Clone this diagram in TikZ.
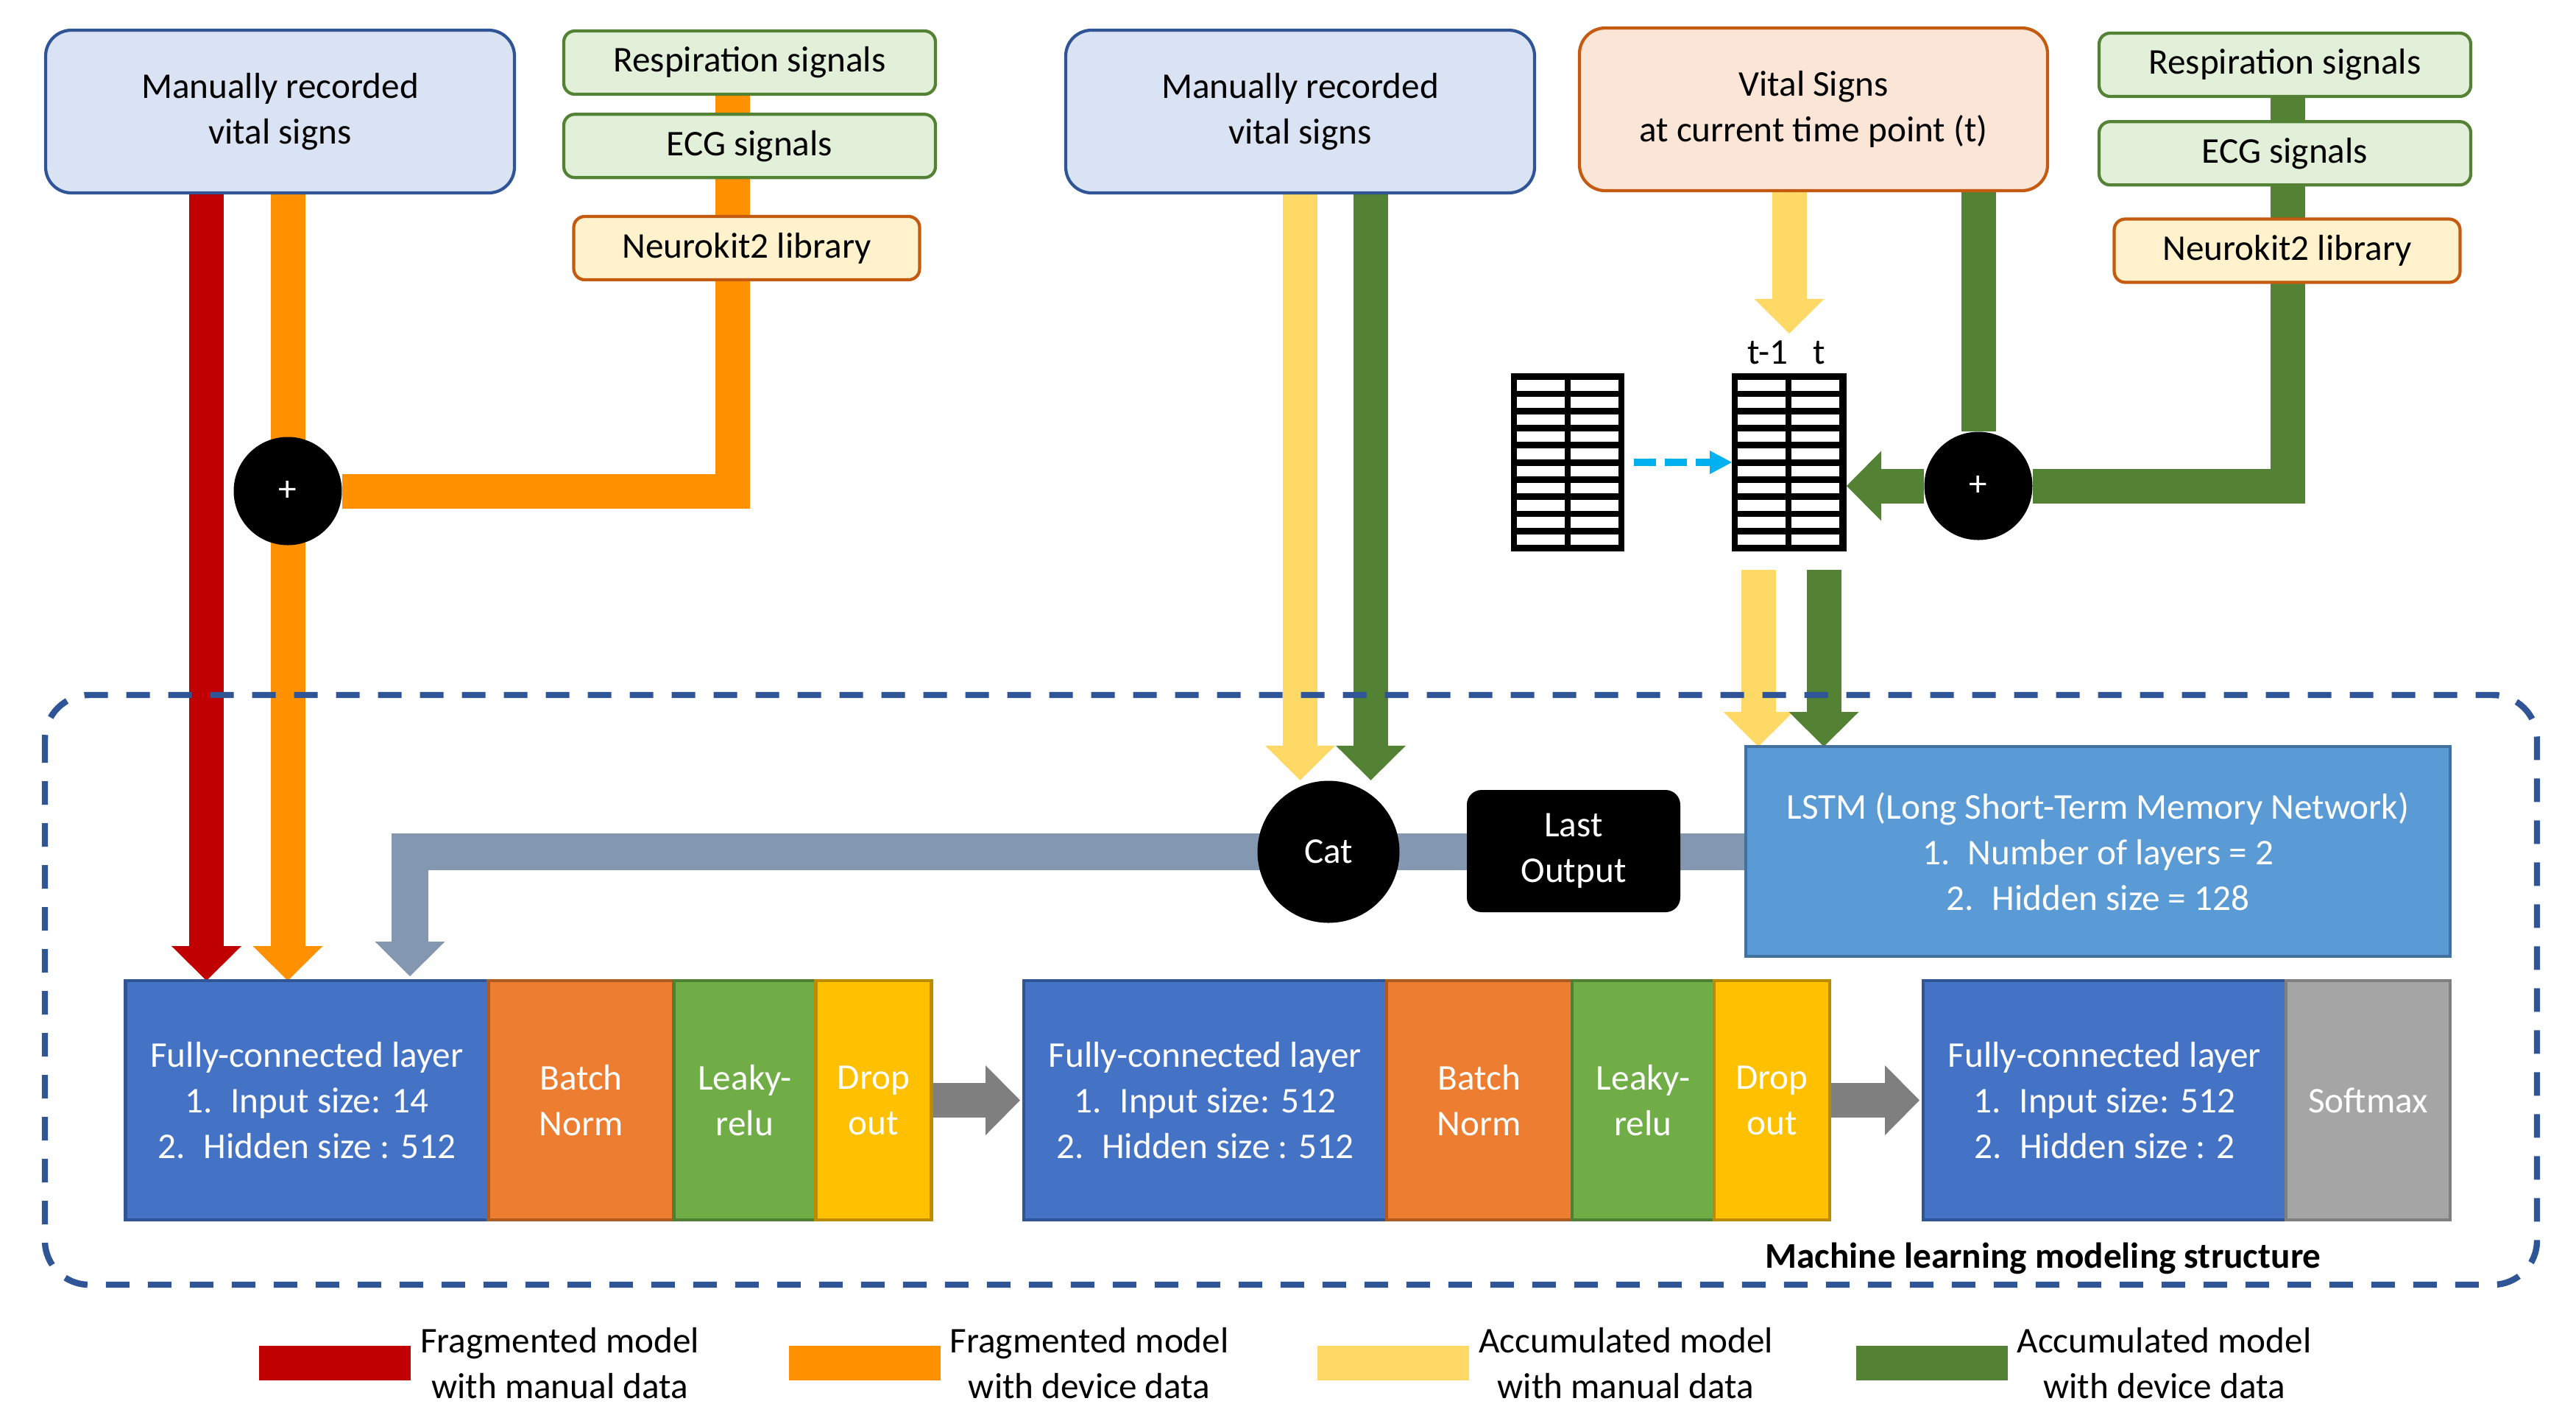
\documentclass[tikz,border=0pt]{standalone}
\usepackage{fontspec}
\setmainfont{Carlito}
\usetikzlibrary{arrows.meta,positioning,backgrounds}

\definecolor{manfill}{HTML}{DAE3F3}
\definecolor{mandraw}{HTML}{2F5597}
\definecolor{sigfill}{HTML}{E2F0D9}
\definecolor{sigdraw}{HTML}{548235}
\definecolor{libfill}{HTML}{FFF2CC}
\definecolor{libdraw}{HTML}{C55A11}
\definecolor{vitfill}{HTML}{FBE5D6}
\definecolor{fragred}{HTML}{C00000}
\definecolor{fragorange}{HTML}{FF9100}
\definecolor{accyellow}{HTML}{FFD966}
\definecolor{accgreen}{HTML}{548235}
\definecolor{catgray}{HTML}{8497B0}
\definecolor{fcblue}{HTML}{4472C4}
\definecolor{bnorange}{HTML}{ED7D31}
\definecolor{bndraw}{HTML}{AE5A21}
\definecolor{lrgreen}{HTML}{70AD47}
\definecolor{lrdraw}{HTML}{507E32}
\definecolor{dofill}{HTML}{FFC000}
\definecolor{dodraw}{HTML}{BC8C00}
\definecolor{smgray}{HTML}{A5A5A5}
\definecolor{smdraw}{HTML}{7F7F7F}
\definecolor{lstmblue}{HTML}{5B9BD5}
\definecolor{lstmdraw}{HTML}{41719C}
\definecolor{flowgray}{HTML}{7F7F7F}
\definecolor{skyblue}{HTML}{00B0F0}

\tikzset{
	% standard arrow tip for the thick pipes
	>={Triangle[width=0.95cm,length=0.47cm,line width=0pt]},
	% input box style
	srcbox/.style={
		rectangle,
		rounded corners=0.35cm,
		line width=1.2pt,
		align=center,
		minimum width=6.37cm,
		minimum height=2.21cm
	},
	% signal box style
	sigbox/.style={
		rectangle,
		rounded corners=0.15cm,
		draw=sigdraw, fill=sigfill,
		line width=1.2pt,
		minimum width=5.05cm,
		minimum height=0.86cm
	},
	libbox/.style={sigbox, draw=libdraw, fill=libfill, minimum width=4.7cm},
	% network layer style
	layer/.style={
		rectangle,
		line width=1.2pt,
		text=white,
		align=center,
		minimum height=3.25cm,
		inner sep=0pt, outer sep=0pt
	},
	fcbox/.style={layer, fill=fcblue, draw=mandraw, minimum width=4.93cm},
	bnbox/.style={layer, fill=bnorange, draw=bndraw, minimum width=2.52cm},
	lrbox/.style={layer, fill=lrgreen, draw=lrdraw, minimum width=1.93cm},
	dobox/.style={layer, fill=dofill, draw=dodraw, minimum width=1.57cm},
	% black joint style
	joint/.style={circle, fill=black, text=white, inner sep=0pt},
	% data table style
	vtable/.style={rectangle, fill=black, minimum width=1.54cm, minimum height=2.42cm, inner sep=0pt, outer sep=0pt},
	% legend style
	legkey/.style={rectangle, minimum width=2.06cm, minimum height=0.47cm, inner sep=0pt},
	legtext/.style={align=center},
	% pipe style
	pipe/.style={line width=0.47cm},
}

\begin{document}
\begin{tikzpicture}[font=\fontsize{14}{17.6}\selectfont]
	\useasboundingbox (0,0) rectangle (35,-19.21);

	% inputs of the fragmented model
	\node[srcbox, draw=mandraw, fill=manfill] (manual1) at (3.805,-1.515)
		{Manually recorded\\vital signs};
	\node[sigbox] (resp1) at (10.185,-0.85) {Respiration signals};
	\node[sigbox, below=0.23cm of resp1] (ecg1) {ECG signals};
	\node[libbox] (neuro1) at (10.145,-3.37) {Neurokit2 library};
	\node[joint, minimum size=1.47cm] (plus1) at (3.91,-6.67) {+};

	% inputs of the accumulated model
	\node[srcbox, draw=mandraw, fill=manfill] (manual2) at (17.665,-1.515)
		{Manually recorded\\vital signs};
	\node[srcbox, draw=libdraw, fill=vitfill, minimum width=6.36cm] (vital) at (24.64,-1.485)
		{Vital Signs\\at current time point (t)};
	\node[sigbox] (resp2) at (31.045,-0.88) {Respiration signals};
	\node[sigbox, below=0.30cm of resp2] (ecg2) {ECG signals};
	\node[libbox] (neuro2) at (31.075,-3.405) {Neurokit2 library};
	\node[joint, minimum size=1.47cm] (plus2) at (26.88,-6.60) {+};

	% time tables
	\node[vtable] (tab1) at (21.30,-6.28) {};
	\node[vtable, minimum width=1.56cm] (tab2) at (24.31,-6.28) {};
	\foreach \t in {tab1,tab2}
		\foreach \r in {0,...,9}
			\foreach \c in {0,1}
				\fill[white] ([xshift=0.08cm+\c*0.73cm, yshift=-0.09cm-\r*0.233cm]\t.north west)
					rectangle ++(0.65,-0.145);
	\node (tprev) at ([xshift=-0.29cm, yshift=0.28cm]tab2.north) {t-1};
	\node (tnow) at ([xshift=0.41cm, yshift=0.28cm]tab2.north) {t};

	% model structure
	\node[joint, minimum size=1.93cm] (cat) at (18.05,-11.57) {Cat};
	\node[rectangle, rounded corners=0.2cm, fill=black, text=white, align=center,
		minimum width=2.9cm, minimum height=1.66cm] (lastout) at (21.38,-11.56) {Last\\Output};
	\node[layer, fill=lstmblue, draw=lstmdraw, minimum width=9.57cm, minimum height=2.85cm]
		(lstm) at (28.505,-11.565)
		{LSTM (Long Short-Term Memory Network)\\1.\enspace Number of layers = 2\\2.\enspace Hidden size = 128};

	\node[fcbox] (fc1) at (4.17,-14.945)
		{Fully-connected layer\\1.\enspace Input size: 14\\2.\enspace Hidden size : 512};
	\node[bnbox, right=0pt of fc1] (bn1) {Batch\\Norm};
	\node[lrbox, right=0pt of bn1] (lr1) {Leaky-\\relu};
	\node[dobox, right=0pt of lr1] (do1) {Drop\\out};

	\node[fcbox] (fc2) at (16.375,-14.945)
		{Fully-connected layer\\1.\enspace Input size: 512\\2.\enspace Hidden size : 512};
	\node[bnbox, right=0pt of fc2] (bn2) {Batch\\Norm};
	\node[lrbox, right=0pt of bn2] (lr2) {Leaky-\\relu};
	\node[dobox, right=0pt of lr2] (do2) {Drop\\out};

	\node[fcbox] (fc3) at (28.595,-14.945)
		{Fully-connected layer\\1.\enspace Input size: 512\\2.\enspace Hidden size : 2};
	\node[layer, fill=smgray, draw=smdraw, minimum width=2.23cm, right=0pt of fc3] (soft) {Softmax};

	\draw[mandraw, line width=2.4pt, dash pattern=on 0.32cm off 0.25cm, rounded corners=0.6cm]
		(0.61,-9.44) rectangle (34.47,-17.45);
	\node[font=\fontsize{14}{17.6}\selectfont\bfseries] (title) at (27.76,-17.09)
		{Machine learning modeling structure};

	% legend
	\node[legkey, fill=fragred] (keyred) at (4.55,-18.515) {};
	\node[legtext, right=0pt of keyred] (txtred) {Fragmented model\\with manual data};
	\node[legkey, fill=fragorange] (keyorg) at (11.745,-18.515) {};
	\node[legtext, right=0pt of keyorg] (txtorg) {Fragmented model\\with device data};
	\node[legkey, fill=accyellow] (keyyel) at (18.93,-18.515) {};
	\node[legtext, right=0pt of keyyel] (txtyel) {Accumulated model\\with manual data};
	\node[legkey, fill=accgreen] (keygrn) at (26.245,-18.515) {};
	\node[legtext, right=0pt of keygrn] (txtgrn) {Accumulated model\\with device data};

	% pipe end points
	\coordinate (redsrc) at ([xshift=-1.0cm]manual1.south);
	\coordinate (orgsrc) at (manual1.south -| plus1);
	\coordinate (orgsig) at ([xshift=-0.23cm]resp1.south);
	\coordinate (yelsrc) at (manual2.south);
	\coordinate (grnsrc) at ([xshift=0.96cm]manual2.south);
	\coordinate (yelvit) at (vital.south -| tab2);
	\coordinate (grnvit) at (vital.south -| plus2);
	\coordinate (grnsig) at ([xshift=0.035cm]resp2.south);
	\coordinate (yeltab) at ([xshift=-0.42cm, yshift=-0.25cm]tab2.south);
	\coordinate (grntab) at ([xshift=0.47cm, yshift=-0.25cm]tab2.south);
	\coordinate (catin) at ([xshift=1.40cm, yshift=0.06cm]fc1.north);

	\begin{scope}[on background layer]
		\draw[pipe, fragred, ->] (redsrc) -- (redsrc |- fc1.north);
		\draw[pipe, fragorange, ->] (orgsrc) -- (orgsrc |- fc1.north);
		\draw[pipe, fragorange] (orgsig) |- (plus1);

		\draw[pipe, accyellow, ->] (yelsrc) -- (yelsrc |- cat.north);
		\draw[pipe, accgreen, ->] (grnsrc) -- (grnsrc |- cat.north);
		\draw[pipe, accyellow, ->] (yelvit) -- ([yshift=0.54cm]tab2.north);
		\draw[pipe, accgreen] (grnvit) -- (plus2);
		\draw[pipe, accgreen] (grnsig) |- (plus2);
		\draw[pipe, accgreen, ->] (plus2) -- (plus2 -| tab2.east);
		\draw[pipe, accyellow, ->] (yeltab) -- (yeltab |- lstm.north);
		\draw[pipe, accgreen, ->] (grntab) -- (grntab |- lstm.north);

		\draw[pipe, catgray, line width=0.5cm, ->] (lstm.west) -| (catin);
		\draw[pipe, flowgray, ->, shorten >=0.05cm] (do1) -- (fc2);
		\draw[pipe, flowgray, ->, shorten >=0.05cm] (do2) -- (fc3);
	\end{scope}

	\draw[skyblue, line width=0.1cm, dash pattern=on 0.3cm off 0.12cm,
		-{Triangle[width=0.32cm,length=0.3cm,line width=0pt]}]
		([xshift=0.13cm]tab1.east) -- (tab2.west);
\end{tikzpicture}
\end{document}
